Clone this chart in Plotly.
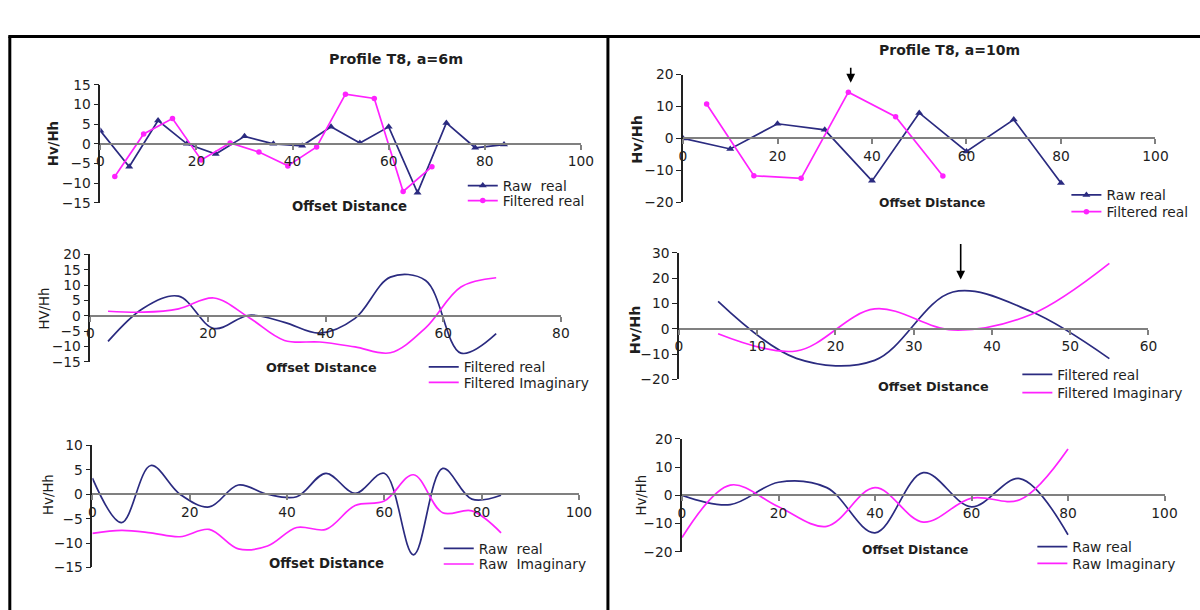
import plotly.graph_objects as go

# Page placement: the exported HTML keeps its default body margin, so every
# layout position below is given in window pixels and converted here.
SX, SY = 0.985, 0.972      # window px per figure px
OX, OY = 3.7, 8.5          # window offset of the figure origin
W, H = 1216, 620           # figure size in its own px
FS = 1 / 0.978             # font compensation

# ---- Profile T8, a = 6 m ----
x6_raw = [0, 6, 12, 18, 24, 30, 36, 42, 48, 54, 60, 66, 72, 78, 84]
raw_real_6 = [3.3, -5.8, 5.9, 0.0, -2.6, 1.9, 0.0, -0.5, 4.3, 0.2, 4.3, -12.4, 5.3, -1.0, -0.2]
raw_imag_6 = [-8.0, -7.4, -7.9, -8.7, -7.2, -11.2, -10.6, -6.8, -7.2, -2.3, -1.4, 4.0, -3.8, -3.4, -7.9]
x6_filt = [3, 9, 15, 21, 27, 33, 39, 45, 51, 57, 63, 69]
filt_real_6 = [-8.3, 2.5, 6.4, -4.1, 0.2, -2.1, -5.6, -0.8, 12.6, 11.5, -12.1, -5.8]
filt_imag_6 = [1.5, 1.2, 2.3, 5.8, -0.6, -8.0, -8.5, -10.1, -12.0, -3.9, 9.4, 12.4]

# ---- Profile T8, a = 10 m ----
x10_raw = [0, 10, 20, 30, 40, 50, 60, 70, 80]
raw_real_10 = [0.0, -3.3, 4.6, 2.7, -13.3, 8.0, -4.1, 5.9, -14.0]
raw_imag_10 = [-15.0, 3.6, -4.1, -11.0, 2.7, -9.5, -1.0, -1.6, 16.4]
x10_filt = [5, 15, 25, 35, 45, 55]
filt_real_10 = [10.8, -11.7, -12.5, 14.5, 6.8, -11.8]
filt_imag_10 = [-2.0, -8.8, 7.8, -0.5, 5.6, 25.8]

NAVY = "#2b2b80"
MAGENTA = "#ff22ff"
FONT = "DejaVu Sans"
TXT = "#1e1e1e"


def fx(t):
    return (t - OX) / SX / W


def fy(t):
    return 1 - (t - OY) / SY / H


def fsz(s):
    return round(s * FS, 2)


fig = go.Figure()

# panel geometry in window pixels: (x-left, x-right), (y-top, y-bottom), ranges, tick steps
panels = [
    dict(xpx=(100, 580), ypx=(85, 203), xr=[0, 100], yr=[-15, 15], xd=20, yd=5),
    dict(xpx=(90, 560), ypx=(254.3, 361.7), xr=[0, 80], yr=[-15, 20], xd=20, yd=5),
    dict(xpx=(92, 578), ypx=(445, 566.7), xr=[0, 100], yr=[-15, 10], xd=20, yd=5),
    dict(xpx=(682, 1154), ypx=(75, 202.3), xr=[0, 100], yr=[-20, 20], xd=20, yd=10),
    dict(xpx=(678, 1147), ypx=(252.7, 379), xr=[0, 60], yr=[-20, 30], xd=10, yd=10),
    dict(xpx=(681, 1163), ypx=(438.3, 551), xr=[0, 100], yr=[-20, 20], xd=20, yd=10),
]

tickfont = dict(family=FONT, size=fsz(13.5), color=TXT)
for i, p in enumerate(panels, start=1):
    xk = "xaxis" if i == 1 else f"xaxis{i}"
    yk = "yaxis" if i == 1 else f"yaxis{i}"
    xname = "x" if i == 1 else f"x{i}"
    y0p, y1p = fy(p["ypx"][1]), fy(p["ypx"][0])
    yr = p["yr"]
    zero_pos = y0p + (0 - yr[0]) / (yr[1] - yr[0]) * (y1p - y0p)
    fig.layout[xk] = dict(
        domain=[fx(p["xpx"][0]), fx(p["xpx"][1])], range=p["xr"],
        anchor="free", position=zero_pos,
        showline=True, linecolor="#808080", linewidth=2,
        ticks="outside", ticklen=5, tickcolor="#808080", tickwidth=1.5,
        tickmode="linear", tick0=0, dtick=p["xd"],
        showgrid=False, zeroline=False, tickfont=tickfont,
    )
    fig.layout[yk] = dict(
        domain=[y0p, y1p], range=yr, anchor=xname,
        showline=True, linecolor="#222222", linewidth=1.5,
        ticks="outside", ticklen=5, tickcolor="#222222", tickwidth=1.2,
        tickmode="linear", tick0=yr[0], dtick=p["yd"],
        showgrid=False, zeroline=False, tickfont=tickfont,
    )


def axes(i):
    return ("x", "y") if i == 1 else (f"x{i}", f"y{i}")


legends = {}


def add(i, x, y, name, color, key_xy, marker=None, smooth=False):
    """Add one series to panel i; its key sits at window pixel key_xy (line start, row centre)."""
    xa, ya = axes(i)
    lg = "legend" if not legends else f"legend{len(legends) + 1}"
    legends[lg] = dict(
        x=fx(key_xy[0] - 9), y=fy(key_xy[1]), xanchor="left", yanchor="middle",
        bgcolor="rgba(0,0,0,0)", borderwidth=0, itemwidth=30,
        font=dict(family=FONT, size=fsz(13.5), color=TXT))
    kw = dict(x=x, y=y, name=name, xaxis=xa, yaxis=ya, legend=lg,
              line=dict(color=color, width=1.7))
    if marker:
        kw["mode"] = "lines+markers"
        kw["marker"] = dict(symbol=marker, size=7 if marker == "triangle-up" else 5.5, color=color)
    else:
        kw["mode"] = "lines"
    if smooth:
        kw["line"].update(shape="spline", smoothing=1.0)
    fig.add_trace(go.Scatter(**kw))


# a = 6 m
add(1, x6_raw, raw_real_6, "Raw  real", NAVY, (471, 185.7), marker="triangle-up")
add(1, x6_filt, filt_real_6, "Filtered real", MAGENTA, (471, 200.7), marker="circle")
add(2, x6_filt, filt_real_6, "Filtered real", NAVY, (432, 366.5), smooth=True)
add(2, x6_filt, filt_imag_6, "Filtered Imaginary", MAGENTA, (432, 382), smooth=True)
add(3, x6_raw, raw_real_6, "Raw  real", NAVY, (447, 547.7), smooth=True)
add(3, x6_raw, raw_imag_6, "Raw  Imaginary", MAGENTA, (447, 563.3), smooth=True)
# a = 10 m
add(4, x10_raw, raw_real_10, "Raw real", NAVY, (1074, 195), marker="triangle-up")
add(4, x10_filt, filt_real_10, "Filtered real", MAGENTA, (1074, 211.7), marker="circle")
add(5, x10_filt, filt_real_10, "Filtered real", NAVY, (1025, 374), smooth=True)
add(5, x10_filt, filt_imag_10, "Filtered Imaginary", MAGENTA, (1025, 392.3), smooth=True)
add(6, x10_raw, raw_real_10, "Raw real", NAVY, (1040, 546), smooth=True)
add(6, x10_raw, raw_imag_10, "Raw Imaginary", MAGENTA, (1040, 562.7), smooth=True)

fig.update_layout(
    width=W, height=H, margin=dict(l=0, r=0, t=0, b=0),
    paper_bgcolor="white", plot_bgcolor="white", showlegend=True,
    **legends,
)

ann = []


def text(x, y, s, size=13, bold=True, angle=0):
    ann.append(dict(x=fx(x), y=fy(y), xref="paper", yref="paper", text=f"<b>{s}</b>" if bold else s,
                    showarrow=False, textangle=angle, xanchor="center", yanchor="middle",
                    font=dict(family=FONT, size=fsz(size), color=TXT)))


text(395.5, 59.3, "Profile T8, a=6m", size=14)
text(948.7, 50, "Profile T8, a=10m", size=13.7)
text(348.5, 207, "Offset Distance", size=13)
text(321, 367, "Offset Distance", size=12.5)
text(326.3, 563, "Offset Distance", size=13)
text(930.8, 203.5, "Offset Distance", size=12)
text(932.5, 386, "Offset Distance", size=12.5)
text(914, 549.3, "Offset Distance", size=12)
text(53, 144, "Hv/Hh", size=13, bold=True, angle=-90)
text(44, 308, "HV/Hh", size=13, bold=False, angle=-90)
text(48, 494, "Hv/Hh", size=13, bold=False, angle=-90)
text(636, 139, "Hv/Hh", size=14, bold=True, angle=-90)
text(634, 329, "Hv/Hh", size=14, bold=True, angle=-90)
text(641, 494, "Hv/Hh", size=13, bold=False, angle=-90)

# arrows pointing at the anomaly peaks
ann.append(dict(x=35.5, xref="x4", y=fy(83), yref="paper", ax=0, ay=-16 / SY, text="", showarrow=True,
                arrowhead=2, arrowsize=1.1, arrowwidth=1.6, arrowcolor="black"))
ann.append(dict(x=36, xref="x5", y=fy(279.5), yref="paper", ax=0, ay=-36 / SY, text="", showarrow=True,
                arrowhead=2, arrowsize=1.1, arrowwidth=1.6, arrowcolor="black"))
fig.update_layout(annotations=ann)

# panel frames
frame = dict(type="line", xref="paper", yref="paper", line=dict(color="black", width=3))
fig.update_layout(shapes=[
    dict(frame, x0=fx(9.5), x1=fx(9.5), y0=fy(611), y1=fy(37)),
    dict(frame, x0=fx(607), x1=fx(607), y0=fy(611), y1=fy(37)),
    dict(frame, x0=fx(8), x1=fx(1200), y0=fy(37), y1=fy(37)),
])

fig.write_html("out.html")
